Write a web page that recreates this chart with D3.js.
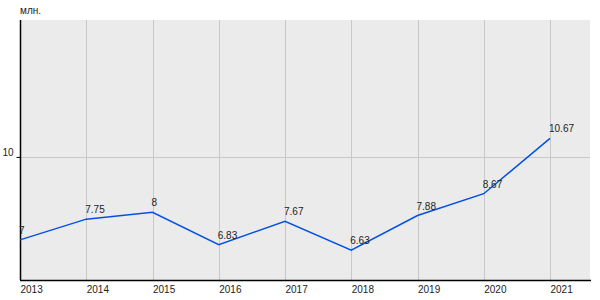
<!DOCTYPE html>
<html><head><meta charset="utf-8">
<script src="https://cdn.jsdelivr.net/npm/d3@7"></script>
<style>body{margin:0;background:#fff}svg{display:block}text{font-family:"Liberation Sans",Arial,sans-serif}</style>
</head><body><svg id="c" width="600" height="300"></svg>
<script>
const years = [2013,2014,2015,2016,2017,2018,2019,2020,2021];
const values = [7,7.75,8,6.83,7.67,6.63,7.88,8.67,10.67];
const labels = ["7","7.75","8","6.83","7.67","6.63","7.88","8.67","10.67"];
const yTicks = [10];
const unit = "млн.";

const svg = d3.select("#c");
const L=20, R=590, T=20, B=280;
const x = d3.scaleLinear().domain([2013,2021]).range([L,550]);
const y = d3.scaleLinear().domain([5.55,14.95]).range([B,T]);

svg.append("rect").attr("x",L).attr("y",T).attr("width",R-L).attr("height",B-T).attr("fill","#ebebeb");
svg.append("g").selectAll("line").data(years.slice(1)).join("line")
  .attr("x1",d=>Math.round(x(d))+0.5).attr("x2",d=>Math.round(x(d))+0.5)
  .attr("y1",T).attr("y2",B).attr("stroke","#c8c8c8").attr("stroke-width",1);
svg.append("g").selectAll("line").data(yTicks).join("line")
  .attr("x1",L).attr("x2",R).attr("y1",d=>Math.round(y(d))+0.5).attr("y2",d=>Math.round(y(d))+0.5)
  .attr("stroke","#c8c8c8");
const ya = d3.axisLeft(y).tickValues(yTicks).tickSize(4).tickFormat(d3.format("d"));
const yg = svg.append("g").attr("transform",`translate(${L+0.5},0)`).call(ya);
yg.select(".domain").remove();
yg.selectAll("text").attr("font-size",10).attr("fill","#222").attr("dy","-0.1em");
yg.selectAll("line").attr("stroke","#000");
svg.append("line").attr("x1",L+0.5).attr("x2",L+0.5).attr("y1",T).attr("y2",B).attr("stroke","#000").attr("stroke-width",1.5);
const xa = d3.axisBottom(x).tickValues(years).tickSize(0).tickFormat(d3.format("d"));
const xg = svg.append("g").attr("transform",`translate(0,${B})`).call(xa);
xg.select(".domain").remove();
xg.selectAll("text").attr("font-size",10).attr("fill","#222").attr("text-anchor","start").attr("dy","0").attr("y",13);
svg.append("line").attr("x1",L).attr("x2",R+1).attr("y1",B+0.5).attr("y2",B+0.5).attr("stroke","#000").attr("stroke-width",1.5);

const line = d3.line().x((d,i)=>x(years[i])).y(d=>y(d));
svg.append("path").datum(values).attr("d",line).attr("fill","none").attr("stroke","#0050e6").attr("stroke-width",1.5);
svg.append("g").selectAll("text").data(values).join("text")
  .attr("x",(d,i)=>x(years[i])-1).attr("y",d=>y(d)-6)
  .attr("font-size",10).attr("fill","#222").text((d,i)=>labels[i]);

svg.append("text").attr("x",20).attr("y",14).attr("font-size",10).attr("fill","#222").text(unit);
</script></body></html>
